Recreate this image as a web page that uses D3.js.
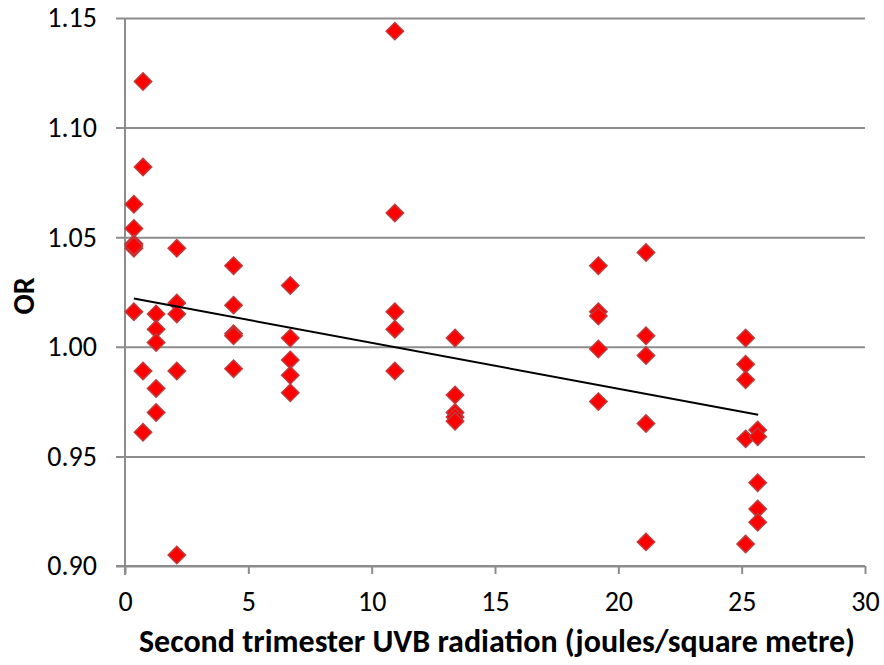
<!DOCTYPE html>
<html>
<head>
<meta charset="utf-8">
<script src="https://cdn.jsdelivr.net/npm/d3@7"></script>
<style>
  body { margin: 0; background: #fff; }
  text { font-family: Carlito, Lato, "Open Sans", sans-serif; fill: #000; }
</style>
</head>
<body>
<div id="container"></div>
<script>
/** DATA */
// UVB radiation (x) for each point
const uvb = [
  0.36, 0.36, 0.36, 0.36, 0.36, 0.36,
  0.73, 0.73, 0.73, 0.73,
  1.26, 1.26, 1.26, 1.26, 1.26,
  2.1, 2.1, 2.1, 2.1, 2.1,
  4.4, 4.4, 4.4, 4.4, 4.4,
  6.7, 6.7, 6.7, 6.7, 6.7,
  10.94, 10.94, 10.94, 10.94, 10.94,
  13.38, 13.38, 13.38, 13.38, 13.38,
  19.19, 19.19, 19.19, 19.19, 19.19,
  21.12, 21.12, 21.12, 21.12, 21.12,
  25.16, 25.16, 25.16, 25.16, 25.16,
  25.65, 25.65, 25.65, 25.65, 25.65
];
// odds ratios (y)
const oddsRatio = [
  1.065, 1.054, 1.047, 1.045, 1.016, 1.046,
  1.121, 1.082, 0.989, 0.961,
  1.015, 1.008, 1.002, 0.981, 0.970,
  1.045, 1.020, 1.015, 0.989, 0.905,
  1.037, 1.019, 1.006, 1.005, 0.990,
  1.028, 1.004, 0.994, 0.987, 0.979,
  1.144, 1.061, 1.016, 1.008, 0.989,
  1.004, 0.978, 0.970, 0.968, 0.966,
  1.037, 1.016, 1.014, 0.999, 0.975,
  1.043, 1.005, 0.996, 0.965, 0.911,
  1.004, 0.992, 0.985, 0.958, 0.910,
  0.962, 0.959, 0.938, 0.926, 0.920
];
// fitted trend line end points
const trendX = [0.36, 25.67];
const trendY = [1.022, 0.969];

const xTicks = [0, 5, 10, 15, 20, 25, 30];
const yTicks = [0.90, 0.95, 1.00, 1.05, 1.10, 1.15];

/** LAYOUT */
const width = 884, height = 665,
  margin = { top: 18, right: 19, bottom: 99, left: 125 };

const svg = d3.select("#container")
  .append("svg")
  .attr("width", width)
  .attr("height", height);

const x = d3.scaleLinear()
  .domain([0, 30])
  .range([margin.left, width - margin.right]);

const y = d3.scaleLinear()
  .domain([0.90, 1.15])
  .range([height - margin.bottom, margin.top]);

// horizontal gridlines
const yAxis = d3.axisLeft(y)
  .tickValues(yTicks)
  .tickFormat(d3.format(".2f"))
  .tickSize(-(width - margin.right - margin.left))
  .tickPadding(28);

svg.append("g")
  .attr("transform", `translate(${margin.left},0)`)
  .call(yAxis)
  .call(g => g.select(".domain").remove())
  .call(g => g.selectAll(".tick line")
    .attr("x1", -9)
    .attr("stroke", "#8c8c8c")
    .attr("stroke-width", 2))
  .call(g => g.selectAll(".tick text")
    .attr("font-size", 28));

// y axis line
svg.append("line")
  .attr("x1", margin.left).attr("x2", margin.left)
  .attr("y1", y(1.15)).attr("y2", y(0.90) + 9)
  .attr("stroke", "#8c8c8c")
  .attr("stroke-width", 2);

const xAxis = d3.axisBottom(x)
  .tickValues(xTicks)
  .tickSize(8)
  .tickPadding(17);

svg.append("g")
  .attr("transform", `translate(0,${y(0.90)})`)
  .call(xAxis)
  .call(g => g.select(".domain")
    .attr("stroke", "#8c8c8c")
    .attr("stroke-width", 2)
    .attr("d", `M${margin.left - 9},0H${width - margin.right}`))
  .call(g => g.selectAll(".tick line")
    .attr("stroke", "#8c8c8c")
    .attr("stroke-width", 2))
  .call(g => g.selectAll(".tick text")
    .attr("font-size", 28));

// axis titles
svg.append("text")
  .attr("x", (margin.left + width - margin.right) / 2 + 2)
  .attr("y", 652)
  .attr("text-anchor", "middle")
  .attr("font-size", 32)
  .attr("font-weight", "bold")
  .text("Second trimester UVB radiation (joules/square metre)");

svg.append("text")
  .attr("transform", `translate(34,296) rotate(-90)`)
  .attr("text-anchor", "middle")
  .attr("font-size", 30)
  .attr("font-weight", "bold")
  .text("OR");

// points
const points = uvb.map((d, i) => ({ x: d, y: oddsRatio[i] }));

svg.selectAll("path.point")
  .data(points)
  .join("path")
  .attr("class", "point")
  .attr("d", d3.symbol(d3.symbolSquare, 150))
  .attr("transform", d => `translate(${x(d.x)},${y(d.y)}) rotate(45)`)
  .attr("fill", "#ff0000")
  .attr("stroke", "#c0393b")
  .attr("stroke-width", 1.5);

// trend line
svg.append("line")
  .attr("x1", x(trendX[0])).attr("y1", y(trendY[0]))
  .attr("x2", x(trendX[1])).attr("y2", y(trendY[1]))
  .attr("stroke", "#000")
  .attr("stroke-width", 2);
</script>
</body>
</html>
